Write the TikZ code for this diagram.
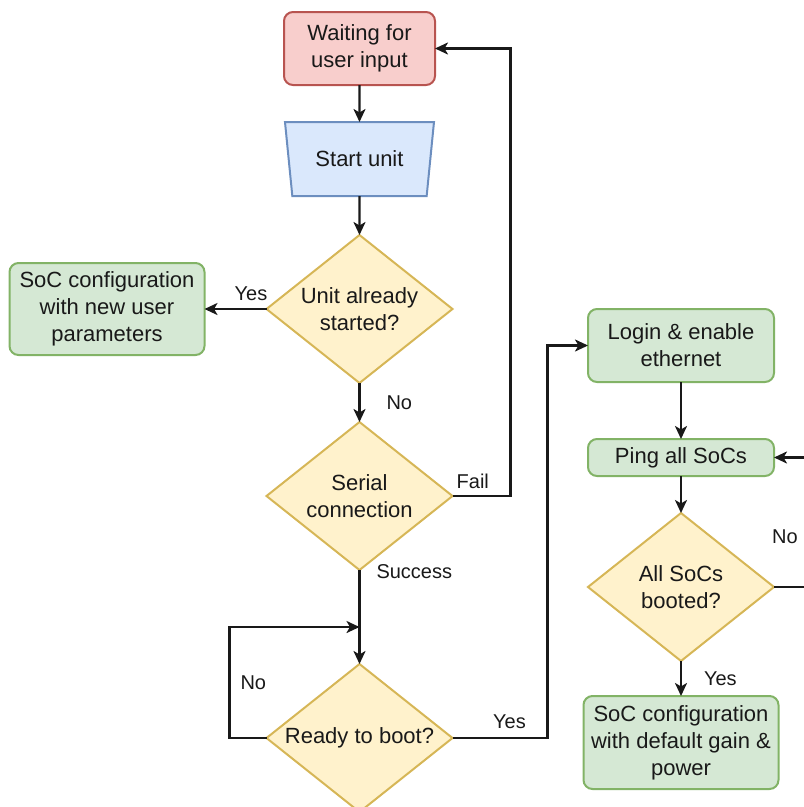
\documentclass[tikz,border=0pt]{standalone}
\usepackage{fontspec}
\setmainfont{Liberation Sans}
\usetikzlibrary{positioning,shapes.geometric,arrows.meta}
\definecolor{redfill}{HTML}{F8CECC}
\definecolor{redline}{HTML}{B85450}
\definecolor{bluefill}{HTML}{DAE8FC}
\definecolor{blueline}{HTML}{6C8EBF}
\definecolor{ylwfill}{HTML}{FFF2CC}
\definecolor{ylwline}{HTML}{D6B656}
\definecolor{grnfill}{HTML}{D5E8D4}
\definecolor{grnline}{HTML}{82B366}
\begin{document}
\begin{tikzpicture}[x=1pt,y=-1pt,
  every node/.style={font=\fontsize{22}{27}\selectfont, text=black!90, outer sep=0pt},
  startbox/.style={draw=redline, fill=redfill, rounded corners=9pt, line width=2pt, align=center, inner sep=0pt},
  stepbox/.style={draw=grnline, fill=grnfill, rounded corners=9pt, line width=2pt, align=center, inner sep=0pt},
  unitbox/.style={trapezium, shape border rotate=180, trapezium angle=65.6, trapezium stretches body,
    minimum width=149pt, minimum height=74pt, draw=blueline, fill=bluefill, line width=2pt, inner sep=0pt},
  decision/.style={diamond, draw=ylwline, fill=ylwfill, line width=2pt, aspect=1.26,
    minimum width=186pt, minimum height=148pt, inner sep=0pt, align=center},
  lbl/.style={font=\fontsize{20}{24}\selectfont, inner sep=3pt},
  arr/.style={-{Stealth[length=13pt,width=12pt,inset=3.5pt]}, line width=2.4pt, black!90}]
\useasboundingbox (0,0) rectangle (804,807);
\clip (0,0) rectangle (804,807);
\node [startbox, minimum width=151pt, minimum height=73pt] (wait) at (359.5,48.5) {Waiting for\\user input};
\node [unitbox, below=37pt of wait] (start) {Start unit};
\node [decision, below=39pt of start] (started) {Unit already\\started?};
\node [decision, below=39pt of started] (serial) {Serial\\connection};
\node [decision, below=94pt of serial] (ready) {Ready to boot?};
\coordinate [above=37pt of ready.north] (merge);
\node [stepbox, left=62pt of started, minimum width=195pt, minimum height=92pt] (newcfg) {SoC configuration\\with new user\\parameters};
\node [stepbox, minimum width=186pt, minimum height=73pt] (login) at (681,345.5) {Login \& enable\\ethernet};
\node [stepbox, below=57pt of login, minimum width=186pt, minimum height=37pt] (ping) {Ping all SoCs};
\node [decision, below=37pt of ping] (booted) {All SoCs\\booted?};
\node [stepbox, below=35pt of booted, minimum width=195pt, minimum height=93pt] (defcfg) {SoC configuration\\with default gain \&\\power};
\draw [arr] (wait) -- (start);
\draw [arr] (start) -- (started);
\draw [arr] (started) -- node [lbl, above=5pt, pos=0.25] {Yes} (newcfg);
\draw [arr] (started) -- node [lbl, right=24pt] {No} (serial);
\draw [arr] (serial.east) -- node [lbl, above=4pt, pos=0.35] {Fail} ++(58,0) |- (wait.east);
\draw [arr] (serial) -- node [lbl, right=14pt, pos=0.02] {Success} (ready);
\draw [arr] (ready.west) -- ++(-37,0) |- node [lbl, right=8pt, pos=0.25] {No} (merge);
\draw [arr] (ready.east) -- node [lbl, above=6pt, pos=0.6] {Yes} ++(95,0) |- (login.west);
\draw [arr] (login) -- (ping);
\draw [arr] (ping) -- (booted);
\draw [arr] (booted) -- node [lbl, right=20pt] {Yes} (defcfg);
\draw [arr] (booted.east) -- node [lbl, above=40pt, pos=0.22] {No} ++(50,0) |- (ping.east);
\end{tikzpicture}
\end{document}
